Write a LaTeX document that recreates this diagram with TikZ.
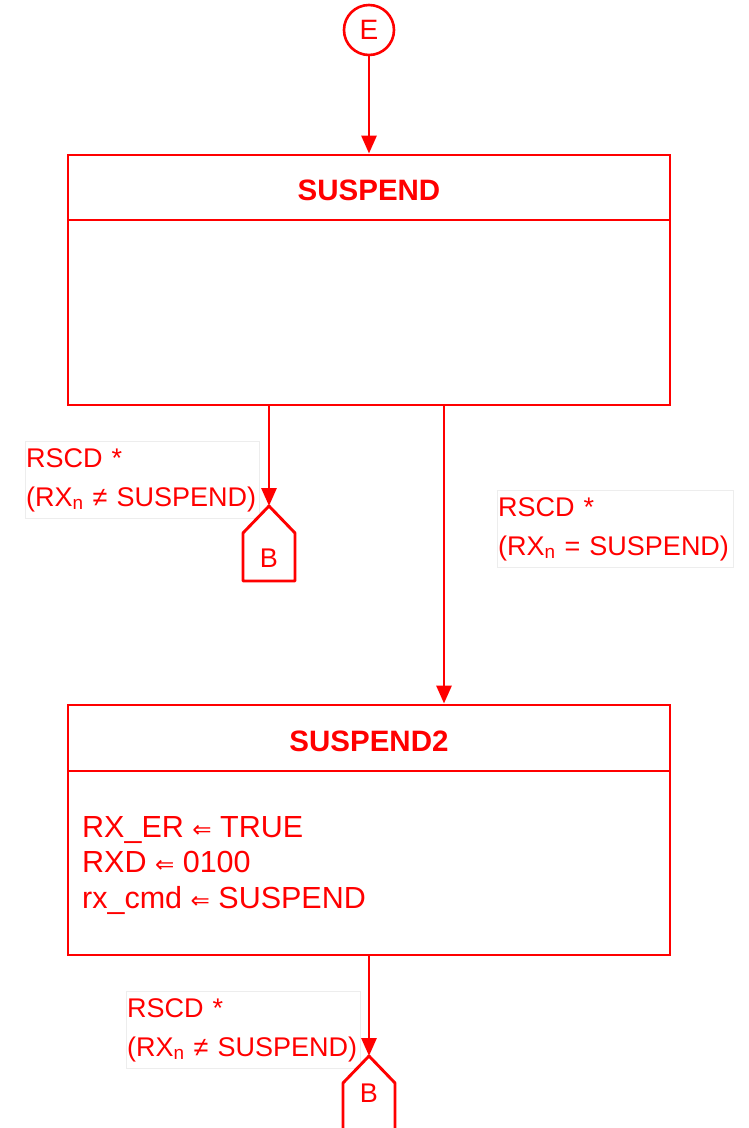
\documentclass[tikz,border=0pt]{standalone}
\usepackage{fontspec}
\setmainfont{Liberation Sans}
\newfontfamily\symf{DejaVu Sans}
\usetikzlibrary{arrows.meta}
\newcommand{\lar}{{\symf\fontsize{23}{23}\selectfont ⇐}}
\begin{document}
\begin{tikzpicture}[x=1pt,y=-1pt,
  ln/.style={draw=red, line width=2.9pt},
  arr/.style={ln, -{Triangle[length=18pt,width=15pt]}},
  statebox/.style={draw=red, line width=2.9pt, minimum width=602pt, minimum height=250pt, inner sep=0pt},
  titletxt/.style={text=red, font=\bfseries\fontsize{29.5}{34}\selectfont},
  bodytxt/.style={text=red, font=\fontsize{30.5}{35.5}\selectfont, align=left, anchor=north west, inner sep=0pt},
  lbl/.style={text=red, font=\fontsize{27}{39}\selectfont, align=left, draw=black!7, fill=white, inner xsep=1pt, inner ysep=7pt, anchor=north west},
  conntxt/.style={text=red, font=\fontsize{27}{30}\selectfont},
  ecirc/.style={circle, draw=red, line width=2.6pt, minimum size=50pt, inner sep=0pt, text=red, font=\fontsize{28}{30}\selectfont}
]
\useasboundingbox (0,0) rectangle (749,1128);
\fill[white] (0,0) rectangle (749,1128);

% labels
\node[lbl, text width=232pt] (l1) at (25,441) {RSCD *\\(RX\textsubscript{n} ≠ SUSPEND)};
\node[lbl, text width=234pt] (l2) at (497,490) {RSCD *\\(RX\textsubscript{n} = SUSPEND)};
\node[lbl, text width=232pt] (l3) at (126,991) {RSCD *\\(RX\textsubscript{n} ≠ SUSPEND)};

% entry connector
\node[ecirc] (E) at (369,30) {E};

% SUSPEND state
\node[statebox] (s1) at (369,280) {};
\draw[ln] (68,220) -- (670,220);
\node[titletxt] (s1t) at (369,190) {SUSPEND};

% SUSPEND2 state
\node[statebox] (s2) at (369,830) {};
\draw[ln] (68,771) -- (670,771);
\node[titletxt] (s2t) at (369,741) {SUSPEND2};
\node[bodytxt] (s2b) at (82,816) {RX\_ER \lar{} TRUE\\RXD \lar{} 0100\\rx\_cmd \lar{} SUSPEND};

% off-page connector B (1)
\node[conntxt] (b1) at (269,558) {B};
\coordinate (b1top) at (269,506);
\draw[ln, line join=round] (b1top) -- (295,533) -- (295,581) -- (243,581) -- (243,533) -- cycle;

% off-page connector B (2)
\node[conntxt] (b2) at (369,1093) {B};
\coordinate (b2top) at (369,1056);
\draw[ln, line join=round] (395,1140) -- (395,1083) -- (b2top) -- (343,1083) -- (343,1140);

% connectors
\draw[arr] (E) -- (s1.north -| E);
\draw[arr] (s1.south -| b1top) -- (b1top);
\coordinate (s1out) at (444,405);
\draw[arr] (s1.south -| s1out) -- (s2.north -| s1out);
\draw[arr] (s2.south -| b2top) -- (b2top);
\end{tikzpicture}
\end{document}
